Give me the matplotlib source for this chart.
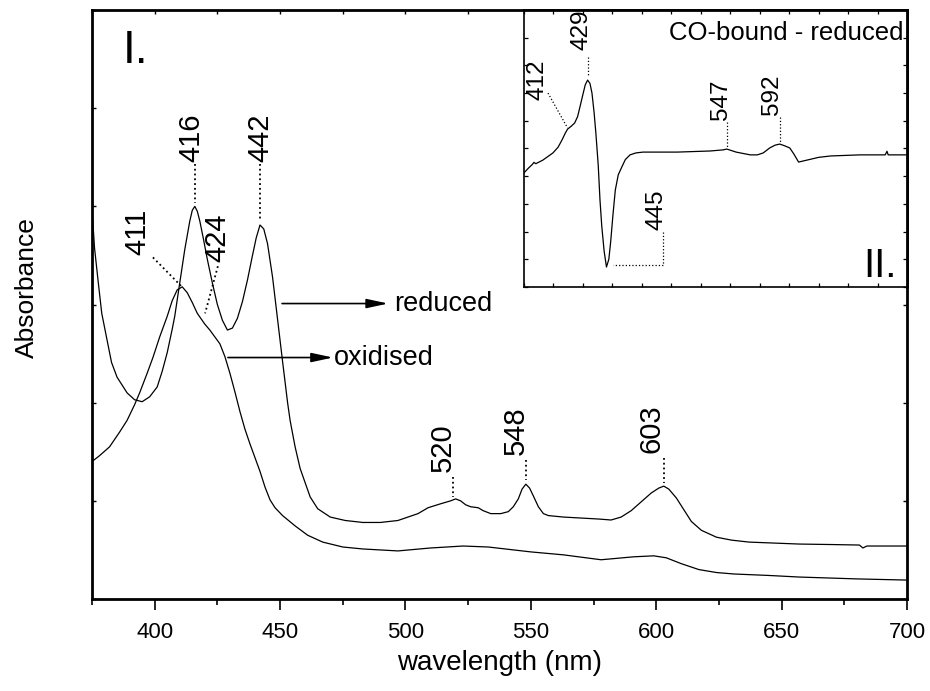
import numpy as np
import matplotlib.pyplot as plt

plt.rcParams['font.family'] = ['Liberation Sans', 'DejaVu Sans']

# reduced spectrum (wavelength nm, absorbance)
wl_red = [375, 376, 377.4, 378.9, 381, 382.8, 385, 389, 392, 395, 398, 401, 403, 405, 407,
          408, 410, 412, 414, 415, 416, 417, 418, 419.5, 421, 423, 425, 427, 429, 431, 433,
          435, 437, 439, 440.5, 442, 443.5, 445, 447, 449, 451, 453, 454, 456, 458, 462,
          465, 470, 476, 483, 490, 497, 505, 509, 514, 518, 520, 522, 524, 526, 529, 531,
          534, 538, 541, 543, 545, 546.5, 548, 549.5, 551, 553, 555, 557, 563, 570, 577,
          582, 586, 590, 594, 598, 601, 603, 605, 608, 611, 614, 618, 624, 630, 637, 647,
          657, 670, 681, 682.4, 684, 690, 700]
abs_red = [3.98, 3.58, 3.25, 2.91, 2.64, 2.41, 2.26, 2.10, 2.03, 2.01, 2.06, 2.16, 2.32, 2.51,
           2.75, 2.88, 3.22, 3.56, 3.85, 3.96, 4.00, 3.95, 3.85, 3.66, 3.46, 3.22, 3.00, 2.84,
           2.74, 2.76, 2.86, 3.03, 3.25, 3.50, 3.68, 3.81, 3.77, 3.62, 3.28, 2.85, 2.42, 2.00,
           1.82, 1.55, 1.33, 1.04, 0.92, 0.835, 0.80, 0.78, 0.78, 0.80, 0.87, 0.93, 0.97,
           1.00, 1.02, 1.00, 0.96, 0.94, 0.93, 0.90, 0.87, 0.87, 0.89, 0.94, 1.02, 1.12, 1.17,
           1.13, 1.05, 0.94, 0.87, 0.85, 0.835, 0.825, 0.815, 0.805, 0.835, 0.90, 0.99, 1.08,
           1.13, 1.15, 1.12, 1.03, 0.91, 0.79, 0.70, 0.63, 0.60, 0.58, 0.57, 0.56, 0.555,
           0.55, 0.52, 0.54, 0.54, 0.54]

# oxidised spectrum
wl_ox = [375, 378, 382, 386, 389, 392, 394, 397, 399.3, 402, 405, 407, 409, 411, 413, 415,
         417, 420, 422, 424, 426, 428, 430, 432, 434, 436, 438, 440, 442, 444, 446, 448,
         451, 456, 461, 467, 475, 483, 497, 510, 523, 533, 550, 563, 578, 591, 599, 604,
         610, 617, 624, 631, 645, 657, 680, 700]
abs_ox = [1.40, 1.46, 1.55, 1.70, 1.82, 1.98, 2.10, 2.30, 2.46, 2.67, 2.88, 3.04, 3.15, 3.18,
          3.12, 3.02, 2.91, 2.80, 2.74, 2.67, 2.60, 2.47, 2.30, 2.11, 1.91, 1.73, 1.58, 1.44,
          1.30, 1.14, 1.01, 0.93, 0.85, 0.745, 0.65, 0.58, 0.53, 0.51, 0.49, 0.52, 0.54,
          0.53, 0.48, 0.45, 0.40, 0.43, 0.44, 0.42, 0.36, 0.30, 0.27, 0.255, 0.24, 0.224,
          0.205, 0.193]

# CO-bound minus reduced difference spectrum
wl_diff = [375, 379, 382, 383.5, 385, 391, 399.6, 404, 407.3, 410, 412, 415, 418, 420.5,
           422.5, 425, 427, 429, 431, 432.7, 434.5, 436, 438, 439.5, 441, 443, 445, 447,
           448.5, 450.5, 452.5, 455, 458, 461, 465, 470, 476, 505, 533, 544, 547, 550, 555,
           561, 567, 573, 578, 583.5, 588, 592, 596, 600.5, 604, 608, 615, 625, 635, 660,
           681.5, 683, 684, 700]
abs_diff = [4.12, 4.30, 4.42, 4.50, 4.45, 4.58, 4.84, 5.05, 5.31, 5.55, 5.70, 5.80, 5.92,
            6.15, 6.50, 6.95, 7.30, 7.47, 7.35, 7.00, 6.30, 5.56, 4.40, 3.14, 2.20, 1.30,
            0.72, 1.00, 1.60, 2.60, 3.50, 4.05, 4.33, 4.60, 4.77, 4.84, 4.87, 4.87, 4.91,
            4.95, 4.98, 4.94, 4.87, 4.82, 4.77, 4.77, 4.84, 5.02, 5.12, 5.16, 5.10, 5.02,
            4.80, 4.51, 4.58, 4.68, 4.73, 4.77, 4.77, 4.90, 4.77, 4.77]

# peak labels: text, text x, text bottom y, dotted leader (xs, ys)
main_peaks = [
    ('411', 393.0, 3.50, [399.3, 410.5], [3.48, 3.19]),
    ('416', 414.5, 4.45, [416, 416], [4.43, 4.03]),
    ('424', 425.2, 3.43, [425.2, 420.1], [3.39, 2.91]),
    ('442', 442.0, 4.45, [442, 442], [4.43, 3.85]),
    ('520', 515.0, 1.29, [519, 519], [1.24, 1.04]),
    ('548', 544.1, 1.47, [548, 548], [1.42, 1.21]),
    ('603', 598.3, 1.49, [603, 603], [1.44, 1.18]),
]
inset_peaks = [
    ('412', 386.9, 6.75, [395.4, 412], [7.0, 5.74]),
    ('429', 424.2, 8.56, [429, 429], [8.30, 7.60]),
    ('445', 487.1, 2.06, [493, 493, 450.6], [1.99, 0.79, 0.79]),
    ('547', 542.0, 6.03, [547, 547], [5.96, 5.06]),
    ('592', 585.2, 6.21, [592, 592], [6.15, 5.24]),
]

fig = plt.figure(figsize=(9.3, 6.91), dpi=100)
ax = fig.add_axes([0.0989, 0.1331, 0.8764, 0.8524])

ax.plot(wl_red, abs_red, color='black', lw=0.9)
ax.plot(wl_ox, abs_ox, color='black', lw=0.9)

ax.set_xlim(375, 700)
ax.set_ylim(0, 6)
ax.set_xticks(np.arange(400, 701, 50))
ax.set_xticks(np.arange(375, 701, 50), minor=True)
ax.set_yticks(np.arange(0, 7, 1))
ax.set_yticklabels([])
ax.tick_params(axis='x', which='major', direction='out', length=8, width=1.2,
               labelsize=16, pad=8.5)
ax.tick_params(axis='x', which='minor', direction='out', length=4.5, width=1.2)
ax.tick_params(axis='y', direction='in', length=3, width=1, left=True, right=True)
for s in ax.spines.values():
    s.set_linewidth(2.0)

# small inward ticks along the top edge
top = ax.secondary_xaxis('top')
top.set_xticks(np.arange(375, 701, 25))
top.tick_params(direction='in', length=3, width=1, labeltop=False)
top.spines['top'].set_visible(False)

ax.set_xlabel('wavelength (nm)', fontsize=20)
ax.xaxis.set_label_coords(0.5, -0.087)
ax.set_ylabel('Absorbance', fontsize=19)
ax.yaxis.set_label_coords(-0.0655, 0.528)

ax.text(0.038, 0.91, 'I.', transform=ax.transAxes, fontsize=33, va='baseline')

for lab, tx, ty, lx, ly in main_peaks:
    ax.text(tx, ty, lab, rotation=90, ha='center', va='bottom', fontsize=21)
    ax.plot(lx, ly, color='black', ls=':', lw=1.3)

# arrows naming the two spectra
arrow = dict(arrowstyle='-|>,head_length=1.3,head_width=0.28', color='black',
             lw=1.2, shrinkA=0, shrinkB=0, mutation_scale=10)
ax.annotate('', xy=(493.1, 3.01), xytext=(450.8, 3.01), arrowprops=arrow)
ax.text(495.3, 3.01, 'reduced', va='center', ha='left', fontsize=19.5)
ax.annotate('', xy=(471.1, 2.46), xytext=(429.2, 2.46), arrowprops=arrow)
ax.text(471.3, 2.46, 'oxidised', va='center', ha='left', fontsize=19.5)

# inset: difference spectrum
ins = fig.add_axes([0.5634, 0.5847, 0.4119, 0.4008])
ins.plot(wl_diff, abs_diff, color='black', lw=0.9)
ins.set_xlim(375, 700)
ins.set_ylim(0, 10)
ins.set_xticks(np.arange(375, 701, 25))
ins.set_yticks(np.arange(0, 11, 1))
ins.set_xticklabels([])
ins.set_yticklabels([])
ins.tick_params(direction='in', length=3, width=0.9, top=True, right=True)
for side, s in ins.spines.items():
    s.set_linewidth(2.0 if side in ('top', 'right') else 1.2)

for lab, tx, ty, lx, ly in inset_peaks:
    ins.text(tx, ty, lab, rotation=90, ha='center', va='bottom', fontsize=17.5)
    ins.plot(lx, ly, color='black', ls=':', lw=0.9)

ins.text(0.99, 0.917, 'CO-bound - reduced', transform=ins.transAxes,
         ha='right', va='center', fontsize=18.5)
ins.text(0.974, 0.036, 'II.', transform=ins.transAxes, ha='right',
         va='baseline', fontsize=29)

plt.savefig('out.png', dpi=100)
